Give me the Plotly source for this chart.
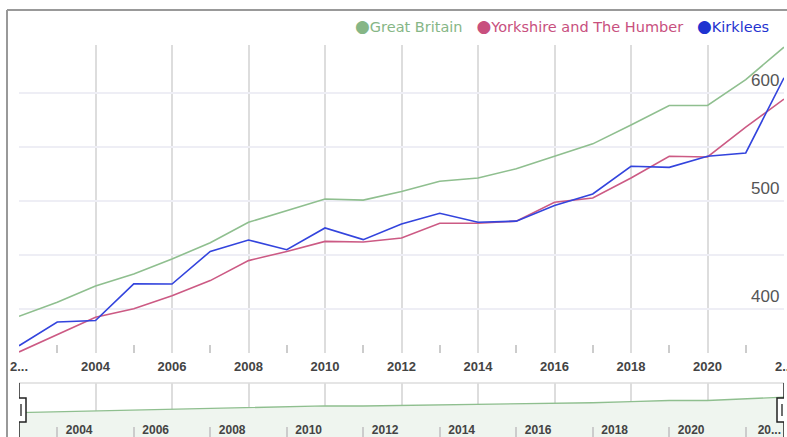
import plotly.graph_objects as go

years = list(range(2002, 2023))
series_names = ["Great Britain", "Yorkshire and The Humber", "Kirklees"]
great_britain = [393, 406, 421, 432, 446, 461, 480, 491, 501.5, 500.5, 508.5, 518, 521, 529.5,
                 541, 552.5, 570, 588, 588, 612, 642]
yorkshire = [360, 376, 392, 400, 412, 426, 444.5, 453, 462.3, 461.7, 465.4, 479, 479, 481,
             498.5, 502.5, 521, 541, 540.4, 568, 594]
kirklees = [365.7, 387.7, 389, 423, 422.8, 453, 463.6, 454.6, 474.7, 463.9, 478.4, 488.3, 480, 481,
            495.4, 506.2, 531.8, 530.8, 541, 544.1, 613.6]
colors = ["#8fbf8f", "#cc5a84", "#3344dd"]
legend_colors = ["#86b686", "#c8507e", "#1f33d0"]

x_tick_vals = [2002, 2004, 2006, 2008, 2010, 2012, 2014, 2016, 2018, 2020, 2022]
x_tick_text = ["2...", "2004", "2006", "2008", "2010", "2012", "2014", "2016", "2018", "2020", "2..."]
x_minor_vals = [2003, 2005, 2007, 2009, 2011, 2013, 2015, 2017, 2019, 2021]
nav_tick_text = ["", "2004", "2006", "2008", "2010", "2012", "2014", "2016", "2018", "2020", "20..."]
y_tick_vals = [400, 450, 500, 550, 600]
y_tick_text = ["400", "", "500", "", "600"]

W, H = 787, 437
ML, MR, MT, MB = 19, 3, 45, 0
plot_h = H - MT - MB
plot_w = W - ML - MR

def py(px_y):
    return (H - MB - px_y) / plot_h

def px(px_x):
    return (px_x - ML) / plot_w

fig = go.Figure()
for name, vals, c in zip(series_names, [great_britain, yorkshire, kirklees], colors):
    fig.add_trace(go.Scatter(x=years, y=vals, mode="lines", name=name,
                             line=dict(color=c, width=1.6), showlegend=False,
                             xaxis="x", yaxis="y"))

fig.add_trace(go.Scatter(x=years, y=great_britain, mode="lines", fill="tozeroy",
                         line=dict(color="#8fbf8f", width=1.4), fillcolor="#eff5ef",
                         showlegend=False, xaxis="x2", yaxis="y2", hoverinfo="skip"))

nav_top = py(383)
main_bottom = py(353)

fig.update_layout(
    width=W, height=H,
    margin=dict(l=ML, r=MR, t=MT, b=MB, autoexpand=False),
    paper_bgcolor="white", plot_bgcolor="white",
    showlegend=False,
    xaxis=dict(domain=[0, 1], range=[2002, 2022], anchor="y", automargin=False,
               tickmode="array", tickvals=x_tick_vals, ticktext=x_tick_text,
               showgrid=True, gridcolor="#dddddd", gridwidth=2,
               ticks="", zeroline=False, showline=False, ticklabeloverflow="allow",
               tickfont=dict(family="Liberation Sans", size=13, color="#444444", weight="bold"),
               ticklabelstandoff=4,
               minor=dict(tickmode="array", tickvals=x_minor_vals, ticks="inside",
                          ticklen=8, tickcolor="#cccccc", tickwidth=1.5, showgrid=False)),
    yaxis=dict(domain=[main_bottom, 1], range=[359, 644], side="right", automargin=False,
               tickmode="array", tickvals=y_tick_vals, ticktext=y_tick_text,
               ticklabelposition="outside", ticklabelshift=-13, ticklabelstandoff=-34,
               ticklabeloverflow="allow",
               showgrid=True, gridcolor="#eeeef5", gridwidth=2,
               zeroline=False, showline=False, ticks="",
               tickfont=dict(family="Liberation Sans", size=17, color="#555555")),
    xaxis2=dict(domain=[0, 1], range=[2002, 2022], anchor="y2", automargin=False,
                tickmode="array", tickvals=x_tick_vals, ticktext=nav_tick_text,
                ticklabelposition="inside left", ticklabelstandoff=-5, ticklabelshift=-3,
                ticklabeloverflow="allow",
                showgrid=True, gridcolor="#dddddd", gridwidth=2,
                ticks="", zeroline=False, showline=False,
                tickfont=dict(family="Liberation Sans", size=12, color="#444444", weight="bold"),
                minor=dict(tickmode="array", tickvals=x_minor_vals, ticks="inside",
                           ticklen=10, tickcolor="#cccccc", tickwidth=1.5, showgrid=False)),
    yaxis2=dict(domain=[0, nav_top], range=[0, 870], visible=False, fixedrange=True),
)

shapes = []
# outer frame
shapes.append(dict(type="line", xref="paper", yref="paper", x0=px(7), x1=px(W + 5),
                   y0=py(10), y1=py(10), line=dict(color="#999999", width=2)))
shapes.append(dict(type="line", xref="paper", yref="paper", x0=px(7), x1=px(7),
                   y0=py(10), y1=py(H + 5), line=dict(color="#999999", width=2)))
# navigator top border
shapes.append(dict(type="line", xref="paper", yref="paper", x0=0, x1=1,
                   y0=nav_top, y1=nav_top, line=dict(color="#dddddd", width=1.5)))
# handles
for hx in [years[0], years[-1]]:
    shapes.append(dict(type="line", xref="x2", yref="paper", x0=hx, x1=hx,
                       y0=0, y1=nav_top, line=dict(color="#222222", width=1.5)))
    shapes.append(dict(type="rect", xref="x2", yref="paper", xsizemode="pixel", xanchor=hx,
                       x0=-7, x1=7, ysizemode="pixel", yanchor=nav_top / 2,
                       y0=-12, y1=12, fillcolor="white", line=dict(color="#222222", width=1.5)))
    shapes.append(dict(type="path", xref="x2", yref="paper", xsizemode="pixel", xanchor=hx,
                       ysizemode="pixel", yanchor=nav_top / 2,
                       path="M-2,-6 L-2,6 M2,-6 L2,6", line=dict(color="#222222", width=1.3)))
fig.update_layout(shapes=shapes)

legend_text = "   ".join(
    f"<span style='color:{lc}'><span style='font-size:17px'>●</span>{n}</span>"
    for n, lc in zip(series_names, legend_colors)
)
fig.add_annotation(text=legend_text, xref="paper", yref="paper", x=px(771), y=py(26),
                   xanchor="right", yanchor="middle", showarrow=False,
                   font=dict(family="DejaVu Sans", size=14.5))

fig.write_html("out.html", config={"displayModeBar": False},
               post_script="document.body.style.margin='0';document.body.style.overflow='hidden';")
